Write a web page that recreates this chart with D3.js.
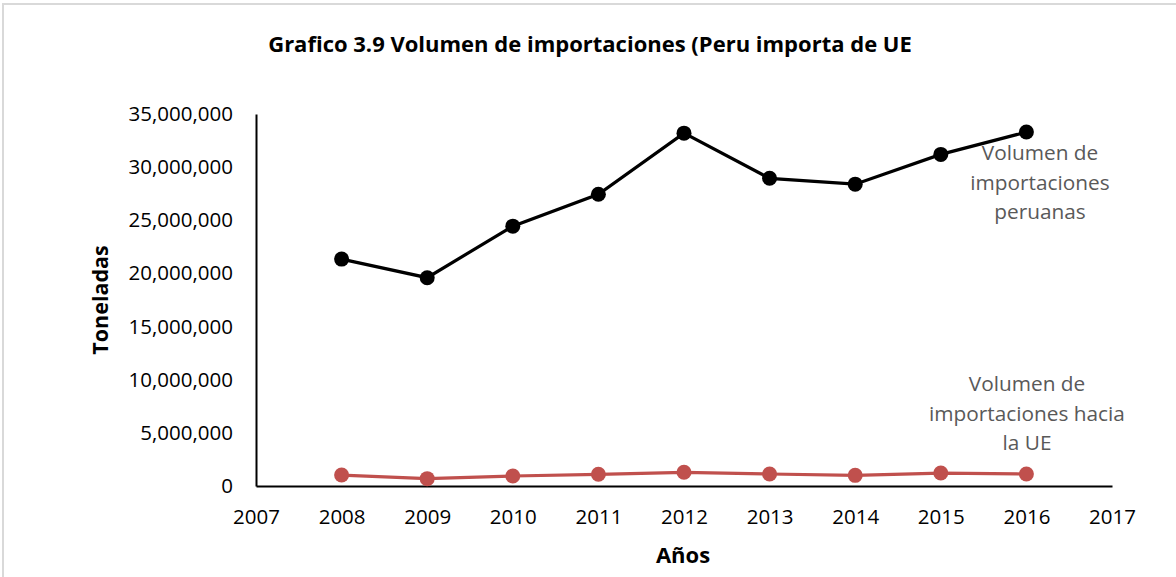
<!DOCTYPE html>
<html>
<head>
<meta charset="utf-8" />
<title>Volumen de importaciones</title>
<style>
  body { margin: 0; background: #fff; }
  svg text { font-family: "Open Sans", "Noto Sans", sans-serif; }
</style>
</head>
<body>
<script src="https://d3js.org/d3.v7.min.js"></script>
<script>

  var years = [2008, 2009, 2010, 2011, 2012, 2013, 2014, 2015, 2016];
  var peruanas = [21350000, 19600000, 24450000, 27450000, 33200000, 28950000, 28400000, 31200000, 33300000];
  var haciaUE = [1030000, 690000, 940000, 1100000, 1290000, 1130000, 1000000, 1220000, 1130000];
  var yTicks = [0, 5000000, 10000000, 15000000, 20000000, 25000000, 30000000, 35000000];
  var xTicks = [2007, 2008, 2009, 2010, 2011, 2012, 2013, 2014, 2015, 2016, 2017];

  var width = 1176;
  var height = 577;
  var margin = {"left":256, "right":64, "top":114, "bottom":91};

  var svg = d3.select("body").append("svg")
              .attr("width", width)
              .attr("height", height);

  // frame
  svg.append("rect")
     .attr("x", 3).attr("y", 4)
     .attr("width", width + 10).attr("height", height + 10)
     .attr("fill", "none")
     .attr("stroke", "#d9d9d9")
     .attr("stroke-width", 2);

  var x = d3.scaleLinear()
            .domain([2007, 2017])
            .range([margin.left, width - margin.right]);

  var y = d3.scaleLinear()
            .domain([0, 35000000])
            .range([height - margin.bottom, margin.top]);

  var xAxis = d3.axisBottom(x).tickValues(xTicks).tickFormat(d => d).tickSize(0).tickPadding(23);
  var yAxis = d3.axisLeft(y).tickValues(yTicks).tickFormat(d3.format(",")).tickSize(0).tickPadding(23);

  var gx = svg.append("g")
              .attr("transform", "translate(0," + (height - margin.bottom) + ")")
              .call(xAxis);
  var gy = svg.append("g")
              .attr("transform", "translate(" + margin.left + ",0)")
              .call(yAxis);

  [gx, gy].forEach(function(g){
    g.select(".domain").attr("stroke", "#000").attr("stroke-width", 2);
    g.selectAll("text").attr("fill", "#000").style("font-size", "20.5px")
     .style("font-family", "'Open Sans', sans-serif");
  });

  // lines
  function drawSeries(vals, color) {
    var pts = years.map((yr, i) => [yr, vals[i]]);
    svg.append("path")
       .datum(pts)
       .attr("fill", "none")
       .attr("stroke", color)
       .attr("stroke-width", 3.2)
       .attr("d", d3.line().x(d => x(d[0])).y(d => y(d[1])));
    svg.append("g").selectAll("circle")
       .data(pts)
       .enter().append("circle")
       .attr("cx", d => x(d[0]))
       .attr("cy", d => y(d[1]))
       .attr("r", 7.5)
       .attr("fill", color);
  }
  drawSeries(peruanas, "#000");
  drawSeries(haciaUE, "#c0504d");

  // series labels
  function label(lines, cx, cy0) {
    var t = svg.append("text")
               .attr("text-anchor", "middle")
               .attr("fill", "#595959")
               .style("font-size", "20.8px");
    lines.forEach(function(s, i){
      t.append("tspan").attr("x", cx).attr("y", cy0 + i * 29.5).text(s);
    });
  }
  label(["Volumen de", "importaciones", "peruanas"], 1040, 160);
  label(["Volumen de", "importaciones hacia", "la UE"], 1027, 391);

  // titles
  svg.append("text")
     .attr("x", 590).attr("y", 52)
     .attr("text-anchor", "middle")
     .style("font-size", "22px")
     .style("font-weight", "bold")
     .text("Grafico 3.9 Volumen de importaciones (Peru importa de UE");

  svg.append("text")
     .attr("transform", "translate(108,300) rotate(-90)")
     .attr("text-anchor", "middle")
     .style("font-size", "21.5px")
     .style("font-weight", "bold")
     .text("Toneladas");

  svg.append("text")
     .attr("x", 683).attr("y", 563)
     .attr("text-anchor", "middle")
     .style("font-size", "22px")
     .style("font-weight", "bold")
     .text("Años");

</script>
</body>
</html>
